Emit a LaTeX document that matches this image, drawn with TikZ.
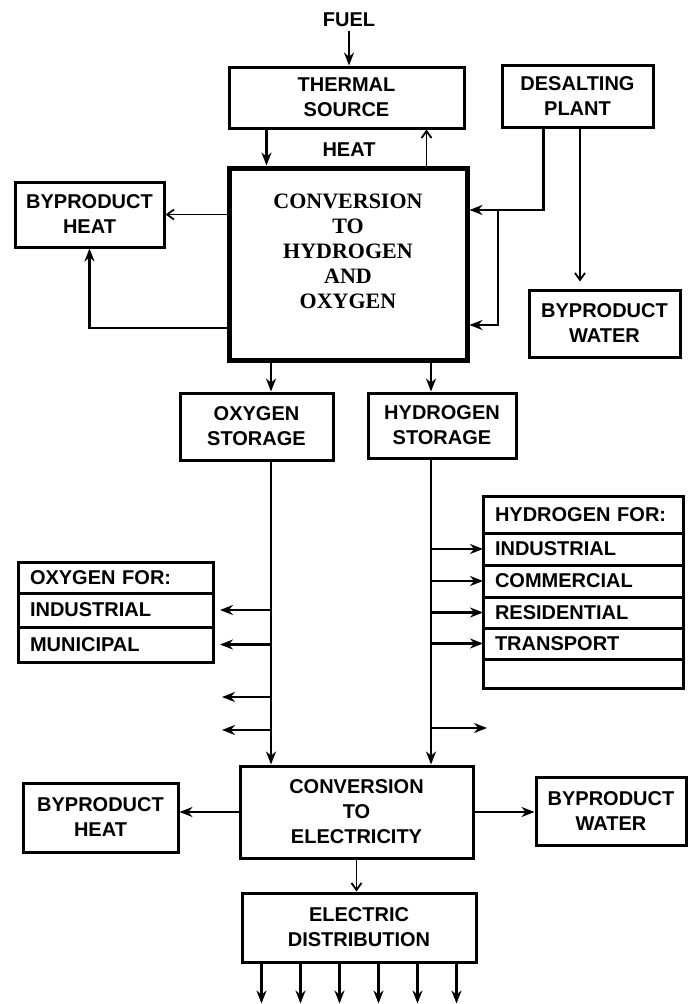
\documentclass[tikz,border=0pt]{standalone}
\usepackage{fontspec}
\setsansfont{Liberation Sans}
\newfontfamily\convfont{Liberation Serif}
\usetikzlibrary{arrows.meta,positioning}

\begin{document}
\begin{tikzpicture}[x=1pt,y=-1pt,
    txt/.style={font=\sffamily\bfseries\fontsize{20}{25}\selectfont},
    b/.style={txt,draw,line width=3pt,align=center,inner sep=0pt},
    row/.style={txt,draw,line width=3pt,outer sep=0pt,inner xsep=12pt,inner ysep=0pt,
                anchor=north,align=left},
    arr/.style={line width=2.4pt,-{Stealth[length=13pt,width=10pt]}},
    oarr/.style={line width=1.8pt,-{Straight Barb[length=7pt,width=10pt]}}]
\useasboundingbox (0,0) rectangle (690,1004);

\node[txt] (fuel) at (349,20) {FUEL};
\node[b,minimum width=235pt,minimum height=61pt] (tsrc) at (346.5,97.5) {THERMAL\\SOURCE};
\node[b,minimum width=151pt,minimum height=62pt] (desal) at (577.5,96) {DESALTING\\PLANT};
\node[txt] (heat) at (349,150) {HEAT};
\node[b,line width=5pt,minimum width=238pt,minimum height=192pt,
      font=\convfont\bfseries\fontsize{22}{25}\selectfont] (conv) at (348,264)
      {CONVERSION\\TO\\HYDROGEN\\AND\\OXYGEN\\\mbox{}};
\node[b,minimum width=149pt,minimum height=65pt] (bheat) at (89.5,214.5) {BYPRODUCT\\HEAT};
\node[b,minimum width=151pt,minimum height=67pt] (bwater) at (604.5,323.5) {BYPRODUCT\\WATER};
\node[b,minimum width=153pt,minimum height=67pt] (ostor) at (256.5,426.5) {OXYGEN\\STORAGE};
\node[b,minimum width=148pt,minimum height=65pt] (hstor) at (442,425.5) {HYDROGEN\\STORAGE};

\node[row,text width=176pt,minimum height=37pt] (hfor) at (583,496) {HYDROGEN FOR:};
\node[row,text width=176pt,minimum height=32pt,below=0pt of hfor] (hind) {INDUSTRIAL};
\node[row,text width=176pt,minimum height=32pt,below=0pt of hind] (hcom) {COMMERCIAL};
\node[row,text width=176pt,minimum height=31pt,below=0pt of hcom] (hres) {RESIDENTIAL};
\node[row,text width=176pt,minimum height=31pt,below=0pt of hres] (htra) {TRANSPORT};
\node[row,text width=176pt,minimum height=29pt,below=0pt of htra] (hemp) {};

\node[row,text width=171pt,minimum height=31pt] (ofor) at (115.5,562) {OXYGEN FOR:};
\node[row,text width=171pt,minimum height=34pt,below=0pt of ofor] (oind) {INDUSTRIAL};
\node[row,text width=171pt,minimum height=35pt,below=0pt of oind] (omun) {MUNICIPAL};

\node[b,minimum width=233pt,minimum height=92pt] (celec) at (356.5,812) {CONVERSION\\TO\\ELECTRICITY};
\node[b,minimum width=155pt,minimum height=69pt] (bheat2) at (100.5,817.5) {BYPRODUCT\\HEAT};
\node[b,minimum width=150pt,minimum height=68pt] (bwater2) at (611,811) {BYPRODUCT\\WATER};
\node[b,minimum width=234pt,minimum height=69pt] (edist) at (359,927.5) {ELECTRIC\\DISTRIBUTION};

\coordinate (ol) at (271,0);
\coordinate (hl) at (431,0);
\coordinate (dj) at (498,210);
\coordinate (ofree1) at (222,697);
\coordinate (ofree2) at (222,730);
\coordinate (hfree) at (487,728);

\draw[arr] (fuel) -- (tsrc.north -| fuel);
\draw[arr] ([xshift=-80pt]tsrc.south) -- ([xshift=-80pt]tsrc.south |- conv.north);
\draw[oarr] ([xshift=80pt]tsrc.south |- conv.north) -- ([xshift=80pt]tsrc.south);
\draw[oarr] (conv.west |- bheat) -- (bheat.east);
\draw[arr] ([yshift=-64pt]conv.west) -| (bheat.south);
\draw[arr] ([xshift=-34pt]desal.south) |- ([yshift=54pt]conv.east);
\draw[arr] (dj) |- ([yshift=-61pt]conv.east);
\draw[oarr,shorten >=7pt] ([xshift=2.5pt]desal.south) -- ([xshift=2.5pt]desal.south |- bwater.north);

\draw[arr] (conv.south -| ol) -- (ostor.north -| ol);
\draw[arr] (conv.south -| hl) -- (hstor.north -| hl);
\draw[arr] (ostor.south -| ol) -- (celec.north -| ol);
\draw[arr] (hstor.south -| hl) -- (celec.north -| hl);
\draw[arr,shorten >=7pt] (ol |- oind) -- (oind.east);
\draw[arr,shorten >=7pt] (ol |- omun) -- (omun.east);
\draw[arr] (ol |- ofree1) -- (ofree1);
\draw[arr] (ol |- ofree2) -- (ofree2);
\draw[arr] (hl |- hind) -- (hind.west);
\draw[arr] (hl |- hcom) -- (hcom.west);
\draw[arr] (hl |- hres) -- (hres.west);
\draw[arr] (hl |- htra) -- (htra.west);
\draw[arr] (hl |- hfree) -- (hfree);

\draw[arr] (celec.west) -- (celec.west -| bheat2.east);
\draw[arr] (celec.east) -- (celec.east -| bwater2.west);
\draw[oarr] (celec.south) -- (celec.south |- edist.north);
\foreach \d [count=\i] in {-97.5,-58.5,-19.5,19.5,58.5,97.5}{
  \coordinate (out\i) at ([xshift=\d pt,yshift=-40pt]edist.south);
  \draw[arr] ([xshift=\d pt]edist.south) -- (out\i);
}
\end{tikzpicture}
\end{document}
